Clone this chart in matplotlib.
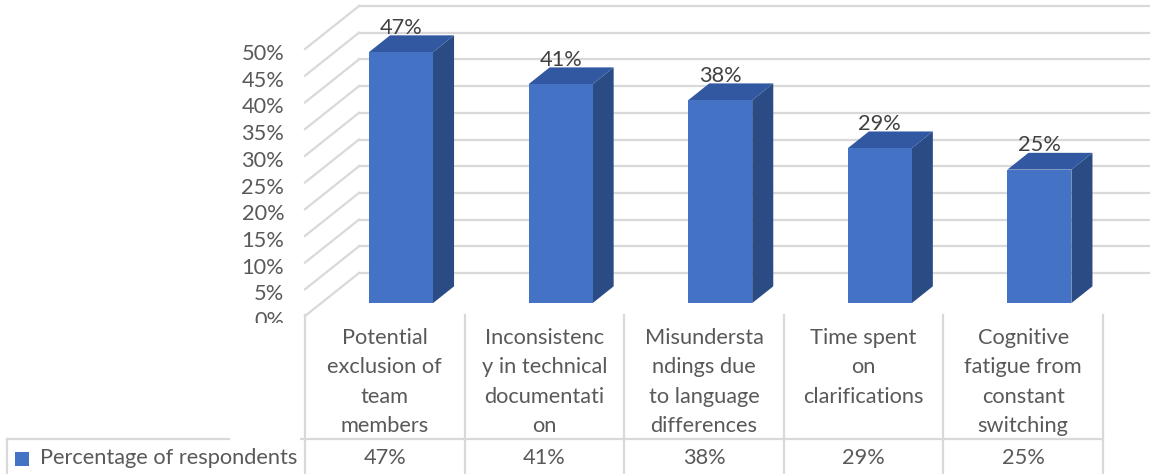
import matplotlib
matplotlib.use("Agg")
import matplotlib.pyplot as plt
from matplotlib.patches import Polygon, Rectangle
from matplotlib.lines import Line2D
import matplotlib.transforms as mtransforms

plt.rcParams['font.family'] = ['Lato', 'DejaVu Sans']

# ---------------- data ----------------
categories = [
    "Potential\nexclusion of\nteam\nmembers",
    "Inconsistenc\ny in technical\ndocumentati\non",
    "Misundersta\nndings due\nto language\ndifferences",
    "Time spent\non\nclarifications",
    "Cognitive\nfatigue from\nconstant\nswitching",
]
values = [47, 41, 38, 29, 25]
value_labels = ["47%", "41%", "38%", "29%", "25%"]
series_name = "Percentage of respondents"
y_ticks = [0, 5, 10, 15, 20, 25, 30, 35, 40, 45, 50]
y_tick_labels = ["0%", "5%", "10%", "15%", "20%", "25%", "30%", "35%", "40%", "45%", "50%"]

# ---------------- style ----------------
W, H = 1150, 474
FRONT = "#4472C4"
TOP = "#3158A0"
SIDE = "#2B4B85"
GRID = "#D9D9D9"
TXT = "#595959"
LBL = "#404040"
FS = 15.7

fig = plt.figure(figsize=(W / 100, H / 100), dpi=100)

# plot area: front plane from x=305..1103 px, 0% at y=316 px (from top), 50% at 49 px
px_left, px_right_front, px_zero, px_fifty = 305, 1103, 316, 49
unit_px = (px_right_front - px_left) / len(categories)
pct_px = (px_zero - px_fifty) / 50.0
ax = fig.add_axes([px_left / W, (H - px_zero) / H, (W - px_left) / W, px_zero / H])
ax.set_xlim(-0.5, -0.5 + (W - px_left) / unit_px)
ax.set_ylim(0, px_zero / pct_px)
for s in ax.spines.values():
    s.set_visible(False)
ax.set_xticks([])
ax.set_yticks(y_ticks)
ax.set_yticklabels(y_tick_labels, color=TXT, fontsize=FS)
ax.tick_params(axis='y', length=0, pad=15)
shift = mtransforms.ScaledTranslation(0, -3 / 100, fig.dpi_scale_trans)
for lab in ax.get_yticklabels():
    lab.set_transform(lab.get_transform() + shift)

# depth of the 3D box (oblique projection)
DX = 54 / unit_px
DY = 43 / pct_px
xmax = ax.get_xlim()[1]

# back wall gridlines and left wall diagonals
for t in y_ticks:
    ax.add_line(Line2D([-0.5 + DX, xmax], [t + DY, t + DY], color=GRID, lw=1.6, zorder=1, clip_on=True))
    ax.add_line(Line2D([-0.5, -0.5 + DX], [t, t + DY], color=GRID, lw=1.6, zorder=1, clip_on=False))

# bars
fd = 0.30   # depth position of bar front face
bd = 0.39   # depth of bar
bw = 64 / unit_px
for i, v in enumerate(values):
    xl = i - bw / 2 + fd * DX
    xr = xl + bw
    b = fd * DY
    t = v + fd * DY
    ddx, ddy = bd * DX, bd * DY
    ax.add_patch(Polygon([(xr, b), (xr + ddx, b + ddy), (xr + ddx, t + ddy), (xr, t)],
                         closed=True, facecolor=SIDE, edgecolor='none', zorder=3, clip_on=False))
    ax.add_patch(Polygon([(xl, t), (xr, t), (xr + ddx, t + ddy), (xl + ddx, t + ddy)],
                         closed=True, facecolor=TOP, edgecolor='none', zorder=3, clip_on=False))
    ax.add_patch(Rectangle((xl, b), bw, v, facecolor=FRONT, edgecolor='none', zorder=4, clip_on=False))
    ax.text(i + fd * DX, t + ddy + 0.3, value_labels[i], ha='center', va='baseline',
            color=LBL, fontsize=FS, zorder=5, clip_on=False)

# ---------------- data table ----------------
def fy(ypx):
    return (H - ypx) / H

bt = mtransforms.blended_transform_factory(ax.transData, fig.transFigure)
for k in range(len(categories) + 1):
    fig.add_artist(Line2D([k - 0.5, k - 0.5], [fy(315), fy(H)], transform=bt, color=GRID, lw=1.6))
x_right_fig = (px_left + len(categories) * unit_px) / W
fig.add_artist(Line2D([7 / W, x_right_fig], [fy(439), fy(439)], transform=fig.transFigure, color=GRID, lw=1.6))
fig.add_artist(Line2D([7 / W, 7 / W], [fy(439), fy(H)], transform=fig.transFigure, color=GRID, lw=1.6))

for i, c in enumerate(categories):
    fig.text(i, fy(328), c, transform=bt, ha='center', va='top', color=TXT, fontsize=FS,
             linespacing=1.58, multialignment='center')
    fig.text(i, fy(458), value_labels[i], transform=bt, ha='center', va='center', color=TXT, fontsize=FS)

# legend key and series name
fig.add_artist(Rectangle((15 / W, fy(466)), 14 / W, 14 / H, transform=fig.transFigure,
                         facecolor=FRONT, edgecolor='none'))
fig.text(40 / W, fy(458), series_name, ha='left', va='center', color=TXT, fontsize=FS)

# table header covers the lower part of the "0%" tick label
fig.add_artist(Rectangle((230 / W, fy(H)), 70 / W, (H - 323) / H, transform=fig.transFigure,
                         facecolor='white', edgecolor='none', zorder=2))

fig.savefig("out.png", dpi=100)
